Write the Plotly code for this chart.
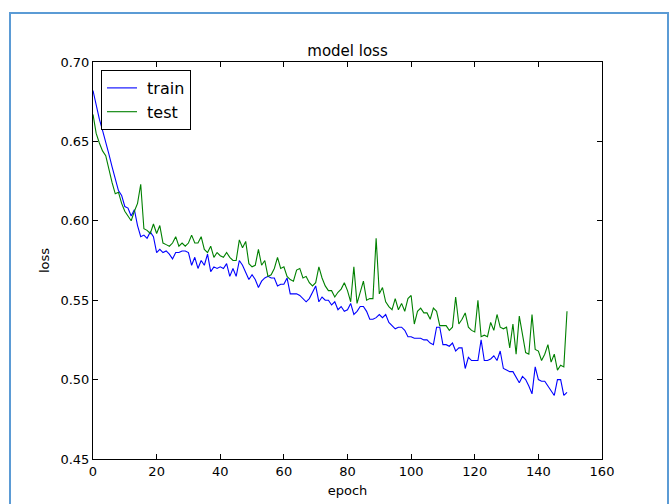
import plotly.graph_objects as go

epochs = list(range(150))

train_loss = [
    0.682, 0.672, 0.664, 0.657, 0.650, 0.642, 0.634, 0.626, 0.619, 0.616,
    0.609, 0.608, 0.603, 0.607, 0.597, 0.590, 0.591, 0.589, 0.593, 0.590,
    0.580, 0.582, 0.580, 0.581, 0.579, 0.576, 0.580, 0.580, 0.581, 0.581,
    0.580, 0.572, 0.577, 0.570, 0.575, 0.572, 0.579, 0.568, 0.571, 0.570,
    0.571, 0.570, 0.573, 0.565, 0.570, 0.565, 0.575, 0.572, 0.568, 0.563,
    0.566, 0.563, 0.558, 0.562, 0.564, 0.565, 0.564, 0.564, 0.559, 0.560,
    0.560, 0.564, 0.554, 0.554, 0.554, 0.553, 0.551, 0.549, 0.551, 0.555,
    0.559, 0.549, 0.552, 0.550, 0.550, 0.547, 0.549, 0.544, 0.546, 0.543,
    0.544, 0.548, 0.541, 0.543, 0.546, 0.546, 0.543, 0.538, 0.538, 0.539,
    0.541, 0.539, 0.541, 0.536, 0.534, 0.532, 0.533, 0.533, 0.531, 0.527,
    0.527, 0.526, 0.526, 0.526, 0.525, 0.525, 0.523, 0.522, 0.533, 0.533,
    0.522, 0.522, 0.521, 0.523, 0.518, 0.520, 0.520, 0.507, 0.514, 0.512,
    0.512, 0.512, 0.525, 0.512, 0.512, 0.513, 0.515, 0.512, 0.518, 0.507,
    0.506, 0.505, 0.505, 0.501, 0.498, 0.502, 0.500, 0.496, 0.491, 0.508,
    0.500, 0.499, 0.499, 0.496, 0.493, 0.490, 0.500, 0.500, 0.490, 0.492,
]

test_loss = [
    0.667, 0.655, 0.649, 0.644, 0.641, 0.632, 0.624, 0.617, 0.618, 0.611,
    0.606, 0.603, 0.600, 0.606, 0.611, 0.623, 0.595, 0.594, 0.592, 0.598,
    0.592, 0.597, 0.586, 0.585, 0.584, 0.586, 0.590, 0.584, 0.586, 0.584,
    0.586, 0.591, 0.586, 0.586, 0.590, 0.582, 0.580, 0.584, 0.577, 0.580,
    0.578, 0.577, 0.580, 0.577, 0.575, 0.575, 0.588, 0.583, 0.587, 0.573,
    0.571, 0.572, 0.582, 0.572, 0.575, 0.565, 0.566, 0.570, 0.577, 0.570,
    0.571, 0.565, 0.563, 0.562, 0.569, 0.570, 0.564, 0.565, 0.561, 0.559,
    0.561, 0.571, 0.564, 0.559, 0.556, 0.556, 0.552, 0.555, 0.557, 0.561,
    0.556, 0.549, 0.571, 0.548, 0.555, 0.562, 0.550, 0.551, 0.551, 0.589,
    0.554, 0.558, 0.549, 0.546, 0.544, 0.551, 0.544, 0.548, 0.543, 0.551,
    0.553, 0.535, 0.543, 0.545, 0.542, 0.542, 0.538, 0.545, 0.543, 0.534,
    0.534, 0.534, 0.531, 0.533, 0.552, 0.535, 0.538, 0.542, 0.533, 0.531,
    0.530, 0.550, 0.527, 0.528, 0.527, 0.536, 0.531, 0.541, 0.533, 0.532,
    0.533, 0.520, 0.535, 0.516, 0.540, 0.529, 0.517, 0.516, 0.541, 0.519,
    0.518, 0.512, 0.516, 0.522, 0.511, 0.516, 0.506, 0.509, 0.508, 0.543,
]

x_ticks = [0, 20, 40, 60, 80, 100, 120, 140, 160]
y_ticks = [0.45, 0.50, 0.55, 0.60, 0.65, 0.70]

W, H = 671, 504
L, R, T, B = 93, 602, 62, 459

def px_x(x):
    return (x - L) / (R - L)

def px_y(y):
    return (B - y) / (B - T)

fig = go.Figure()
fig.add_trace(go.Scatter(x=epochs, y=train_loss, mode="lines", name=" train",
                         line=dict(color="#0000ff", width=1.1)))
fig.add_trace(go.Scatter(x=epochs, y=test_loss, mode="lines", name=" test",
                         line=dict(color="#008000", width=1.1)))

font = "DejaVu Sans, sans-serif"

fig.update_layout(
    width=W, height=H,
    margin=dict(l=L, r=W - R, t=T, b=H - B, pad=0, autoexpand=False),
    paper_bgcolor="white", plot_bgcolor="white",
    font=dict(family=font, size=13, color="black"),
    title=dict(text="model loss", x=0.5, xref="paper", xanchor="center",
               y=1 - 51 / H, yref="container", yanchor="middle",
               font=dict(family=font, size=15, color="black")),
    showlegend=True,
    legend=dict(x=px_x(101), y=px_y(70), xanchor="left", yanchor="top",
                bordercolor="black", borderwidth=1, bgcolor="white",
                font=dict(family=font, size=16, color="black"),
                itemwidth=30, tracegroupgap=0),
    xaxis=dict(range=[0, 160], tickvals=x_ticks, ticktext=[str(v) for v in x_ticks],
               showgrid=False, zeroline=False, showline=True, linecolor="black",
               linewidth=1, mirror="ticks", ticks="inside", ticklen=5,
               tickcolor="black", tickfont=dict(family=font, size=13),
               automargin=False,
               title=dict(text="epoch", standoff=8, font=dict(family=font, size=13))),
    yaxis=dict(range=[0.45, 0.70], tickvals=y_ticks,
               ticktext=["%.2f" % v for v in y_ticks],
               showgrid=False, zeroline=False, showline=True, linecolor="black",
               linewidth=1, mirror="ticks", ticks="inside", ticklen=5,
               tickcolor="black", tickfont=dict(family=font, size=13),
               automargin=False,
               title=dict(text="loss", standoff=7, font=dict(family=font, size=13))),
    shapes=[dict(type="rect", xref="paper", yref="paper",
                 x0=px_x(10), x1=px_x(668), y0=px_y(515), y1=px_y(13),
                 line=dict(color="#5b9bd5", width=2), fillcolor="rgba(0,0,0,0)",
                 layer="below")],
)

fig.write_html("out.html")
